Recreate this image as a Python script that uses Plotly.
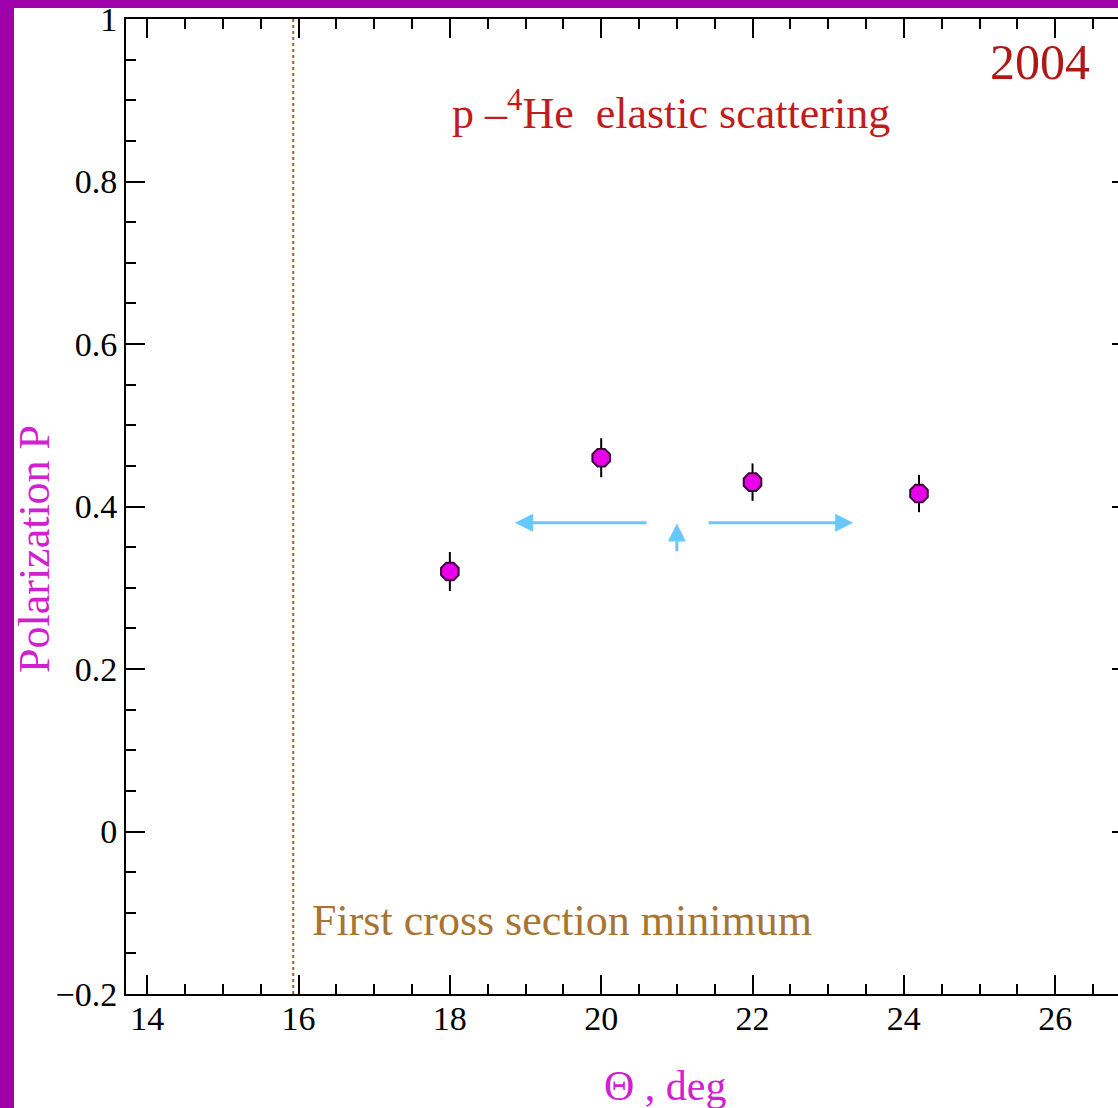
import plotly.graph_objects as go

# ---- data ----
theta_deg = [18.0, 20.0, 22.0, 24.2]
polarization = [0.320, 0.460, 0.430, 0.416]
pol_error = [0.024, 0.024, 0.023, 0.023]

x_tick_vals = [14, 16, 18, 20, 22, 24, 26]
x_tick_text = ["14", "16", "18", "20", "22", "24", "26"]
y_tick_vals = [-0.2, 0.0, 0.2, 0.4, 0.6, 0.8, 1.0]
y_tick_text = ["\u22120.2", "0", "0.2", "0.4", "0.6", "0.8", "1"]

x_range = [13.72, 26.83]
y_range = [-0.2, 1.0]
cross_section_min = 15.93

# arrows: (tail_x, tail_y, head_x, head_y)
arrows = [
    (20.62, 0.380, 18.86, 0.380),
    (21.40, 0.380, 23.33, 0.380),
    (21.00, 0.343, 21.00, 0.379),
]

FONT = "Liberation Serif"
PURPLE = "#A000AA"
MAGENTA_TXT = "#D020D0"

fig = go.Figure()

fig.add_trace(go.Scatter(
    x=theta_deg, y=polarization, mode="markers",
    error_y=dict(type="data", array=pol_error, color="black", thickness=2, width=0),
    marker=dict(symbol="octagon", size=19, color="#E800E8",
                line=dict(color="#3A003A", width=2)),
    showlegend=False, hoverinfo="x+y",
))
# empty trace to register right-hand y axis
fig.add_trace(go.Scatter(x=[], y=[], yaxis="y2", showlegend=False, hoverinfo="skip"))

fig.update_layout(
    width=1118, height=1108,
    margin=dict(l=126, r=0, t=19, b=114),
    paper_bgcolor="white", plot_bgcolor="white",
    font=dict(family=FONT, color="black", size=34),
    xaxis=dict(
        range=x_range, tickvals=x_tick_vals, ticktext=x_tick_text,
        ticks="inside", ticklen=19, tickwidth=2, tickcolor="black",
        showline=True, linecolor="black", linewidth=2, mirror="ticks",
        showgrid=False, zeroline=False,
        tickfont=dict(family=FONT, size=34, color="black"),
        ticklabelstandoff=-7,
        minor=dict(dtick=0.5, tick0=14, ticks="inside", ticklen=10,
                   tickwidth=2, tickcolor="black", showgrid=False),
    ),
    yaxis=dict(
        range=y_range, tickvals=y_tick_vals, ticktext=y_tick_text,
        ticks="inside", ticklen=19, tickwidth=2, tickcolor="black",
        showline=True, linecolor="black", linewidth=2, mirror=False,
        showgrid=False, zeroline=False,
        tickfont=dict(family=FONT, size=34, color="black"),
        minor=dict(dtick=0.05, tick0=0, ticks="inside", ticklen=10,
                   tickwidth=2, tickcolor="black", showgrid=False),
    ),
    yaxis2=dict(
        range=y_range, overlaying="y", side="right", tickvals=y_tick_vals,
        ticks="inside", ticklen=6, tickwidth=2, tickcolor="black",
        showticklabels=False, showline=False, showgrid=False, zeroline=False,
    ),
)

# vertical dotted line at the first cross-section minimum
fig.add_shape(type="line", xref="x", yref="paper", x0=cross_section_min,
              x1=cross_section_min, y0=0, y1=1,
              line=dict(color="#A0602A", width=2, dash="dot"))

# purple frame strips (left and top)
fig.add_shape(type="rect", xref="paper", yref="paper", x0=-0.13, x1=-0.1129,
              y0=-0.13, y1=1.03, fillcolor=PURPLE, line=dict(width=0))
fig.add_shape(type="rect", xref="paper", yref="paper", x0=-0.13, x1=1.01,
              y0=1.0113, y1=1.03, fillcolor=PURPLE, line=dict(width=0))

# text annotations
fig.add_annotation(x=25.80, y=0.947, xref="x", yref="y", text="2004",
                   showarrow=False, font=dict(family=FONT, size=50, color="#B01818"))
fig.add_annotation(x=18.0, y=0.888, xref="x", yref="y", xanchor="left",
                   text="p \u2013<sup>4</sup>He  elastic scattering",
                   showarrow=False, font=dict(family=FONT, size=44, color="#C01C1C"))
fig.add_annotation(x=16.15, y=-0.109, xref="x", yref="y", xanchor="left",
                   text="First cross section minimum",
                   showarrow=False, font=dict(family=FONT, size=44, color="#A87432"))

# axis titles
fig.add_annotation(x=(665 - 126) / 992, y=(994 - 1086) / 975, xref="paper", yref="paper",
                   xanchor="center", yanchor="middle",
                   text="\u0398 , deg", showarrow=False,
                   font=dict(family=FONT, size=42, color=MAGENTA_TXT))
fig.add_annotation(x=(34 - 126) / 992, y=(994 - 549) / 975, xref="paper", yref="paper",
                   xanchor="center", yanchor="middle",
                   text="Polarization P", textangle=-90, showarrow=False,
                   font=dict(family=FONT, size=44, color=MAGENTA_TXT))

# light-blue arrows
for tx, ty, hx, hy in arrows:
    fig.add_annotation(x=hx, y=hy, ax=tx, ay=ty, xref="x", yref="y",
                       axref="x", ayref="y", text="", showarrow=True,
                       arrowhead=2, arrowsize=1.2, arrowwidth=3,
                       arrowcolor="#66C8FF", standoff=0, startstandoff=0)

fig.write_html("out.html")
